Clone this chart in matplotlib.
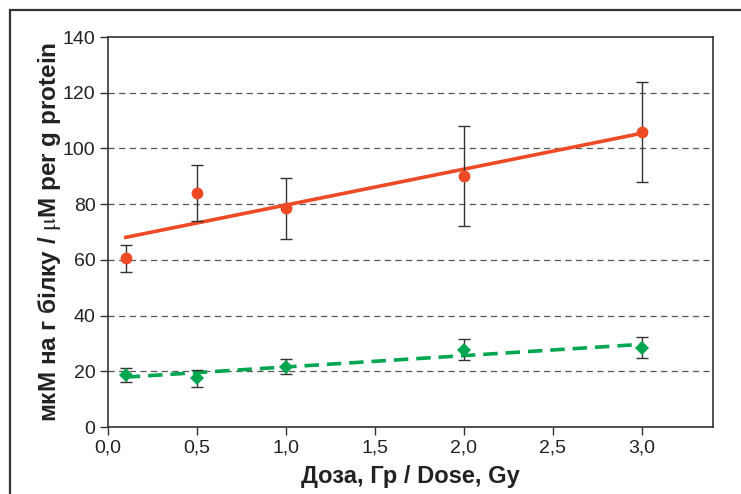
import matplotlib
matplotlib.use('Agg')
import matplotlib.pyplot as plt
from matplotlib.patches import Rectangle
import numpy as np

plt.rcParams['font.family'] = ['Liberation Sans Narrow', 'Liberation Sans', 'DejaVu Sans']
plt.rcParams['mathtext.fontset'] = 'stix'

RED = '#EE4A25'
GREEN = '#00A650'
GRID = '#555555'

dose = [0.1, 0.5, 1.0, 2.0, 3.0]
red_mean = [60.5, 84.0, 78.5, 90.0, 106.0]
red_err = [5.0, 10.0, 11.0, 18.0, 18.0]
green_mean = [18.8, 17.5, 21.7, 27.8, 28.5]
green_err = [2.5, 3.0, 2.8, 3.7, 3.7]

xticks = [0.0, 0.5, 1.0, 1.5, 2.0, 2.5, 3.0]
xticklabels = ['0,0', '0,5', '1,0', '1,5', '2,0', '2,5', '3,0']
yticks = [0, 20, 40, 60, 80, 100, 120, 140]

fig = plt.figure(figsize=(7.41, 4.94), dpi=100)
ax = fig.add_axes([0.1457, 0.1356, 0.8165, 0.7895])

# outer frame, running off the right and bottom edges
fig.add_artist(Rectangle((10 / 741, -0.1), 1.2, 1 - 10 / 494 + 0.1,
                         transform=fig.transFigure, fill=False,
                         edgecolor='#333333', linewidth=1.6))

for y in yticks[1:-1]:
    ax.plot([0, 3.38], [y, y], color=GRID, linestyle=(0, (5, 3.5)), linewidth=0.9, zorder=1)

xs = np.array(dose)
for mean, err, color, marker, ms, ls in [
        (red_mean, red_err, RED, 'o', 8.5, '-'),
        (green_mean, green_err, GREEN, 'D', 7, (0, (4, 2.2)))]:
    k, b = np.polyfit(xs, mean, 1)
    ax.plot([xs[0], xs[-1]], [k * xs[0] + b, k * xs[-1] + b], color=color,
            linewidth=2.6, linestyle=ls, zorder=2)
    ax.errorbar(xs, mean, yerr=err, fmt='none', ecolor='#333333', elinewidth=1.0,
                capsize=4, capthick=1.0, zorder=3)
    ax.plot(xs, mean, linestyle='none', marker=marker, markersize=ms,
            color=color, markeredgewidth=0, zorder=4)

ax.set_xlim(0, 3.4)
ax.set_ylim(0, 140)
ax.set_xticks(xticks)
ax.set_xticklabels(xticklabels)
ax.set_yticks(yticks)
ax.tick_params(axis='both', direction='out', length=6, width=1, color='#333333',
               labelsize=14, labelcolor='#222222', pad=3)
for side in ['left', 'bottom', 'right', 'top']:
    ax.spines[side].set_color('#333333')
    ax.spines[side].set_linewidth(1.2)

ax.set_xlabel('Доза, Гр / Dose, Gy', fontsize=17, fontweight='bold', color='#222222', labelpad=6)
ax.set_ylabel(r'мкМ на г білку / $\mathrm{\mu}$M per g protein', fontsize=17.5, fontweight='bold',
              color='#222222', labelpad=0)

fig.savefig('out.png', dpi=100)
